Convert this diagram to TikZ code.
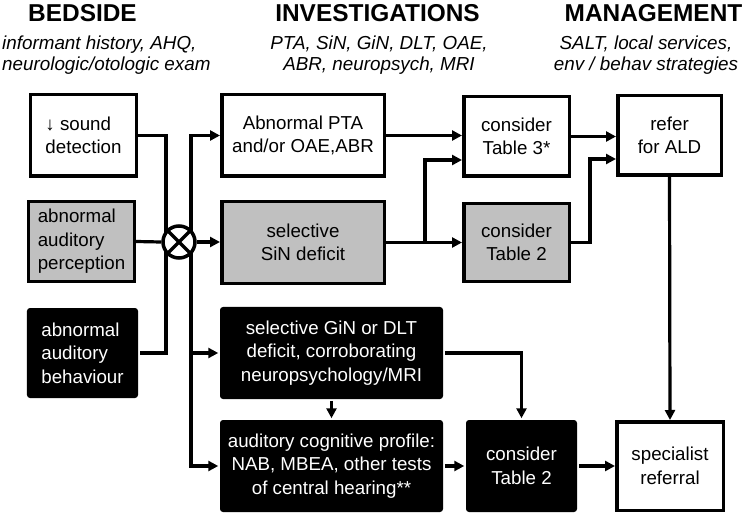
\documentclass[tikz,border=0pt]{standalone}
\usepackage{fontspec}
\setmainfont{Liberation Sans}
\usetikzlibrary{arrows.meta,calc}
\definecolor{boxgray}{RGB}{192,192,192}
\begin{document}
\begin{tikzpicture}[x=1bp,y=-1bp,
  bx/.style={line width=3.5bp, inner sep=1bp, font=\fontsize{18.8}{23.5}\selectfont, align=center},
  wbox/.style={bx, draw=black, fill=white},
  gbox/.style={bx, draw=black, fill=boxgray},
  kbox/.style={bx, fill=black, text=white, rounded corners=3bp},
  head/.style={inner sep=0, anchor=base, font=\fontsize{24.5}{28}\selectfont\bfseries},
  sub/.style={inner sep=0, anchor=base, font=\fontsize{18.9}{21.5}\selectfont\itshape},
  ln/.style={line width=3.2bp},
  arr/.style={line width=3.2bp, -{Triangle[length=10bp,width=10bp]}}]
\useasboundingbox (0,0) rectangle (750,515);

% headings
\node[head] (h1) at (82.5,21.5) {BEDSIDE};
\node[head] (h2) at (377.5,21.5) {INVESTIGATIONS};
\node[head] (h3) at (653.5,21.5) {MANAGEMENT};
\node[sub, anchor=base west] (s1a) at (2,49.5) {informant history, AHQ,};
\node[sub, anchor=base west] (s1b) at (2,70.8) {neurologic/otologic exam};
\node[sub] (s2a) at (379,49.5) {PTA, SiN, GiN, DLT, OAE,};
\node[sub] (s2b) at (379,70.8) {ABR, neuropsych, MRI};
\node[sub] (s3a) at (646,49.5) {SALT, local services,};
\node[sub] (s3b) at (646,70.8) {env / behav strategies};

% boxes
\node[wbox, align=left, minimum width=105.5bp, minimum height=81.5bp] (sd) at (83.5,135.5) {↓ sound\\detection};
\node[gbox, align=left, minimum width=105.5bp, minimum height=79.5bp] (perc) at (81.5,241.5) {abnormal\\auditory\\perception};
\node[kbox, align=left, minimum width=111bp, minimum height=90bp] (beh) at (82.5,353) {abnormal\\auditory\\behaviour};

\node[wbox, minimum width=162.5bp, minimum height=81.5bp] (pta) at (303,135.5) {Abnormal PTA\\and/or OAE,ABR};
\node[gbox, minimum width=162.5bp, minimum height=81.5bp] (sin) at (303,242.5) {selective\\SiN deficit};
\node[kbox, minimum width=223bp, minimum height=92bp] (gin) at (331.5,353) {selective GiN or DLT\\deficit, corroborating\\neuropsychology/MRI};
\node[kbox, minimum width=223bp, minimum height=92bp] (acp) at (331.5,466) {auditory cognitive profile:\\NAB, MBEA, other tests\\of central hearing**};

\node[wbox, minimum width=105.5bp, minimum height=79.5bp] (t3) at (516.5,136.5) {consider\\Table 3*};
\node[gbox, minimum width=105.5bp, minimum height=77.5bp] (t2g) at (516.5,242.5) {consider\\Table 2};
\node[kbox, minimum width=111bp, minimum height=92bp] (t2b) at (521.5,466) {consider\\Table 2};

\node[wbox, minimum width=103.5bp, minimum height=79.5bp] (ald) at (669.5,135.5) {refer\\for ALD};
\node[wbox, minimum width=106.5bp, minimum height=88.5bp] (spec) at (670,466) {specialist\\referral};

% left side connectors
\coordinate (vL) at (166,0);
\coordinate (vR) at (191,0);
\draw[ln] (sd.east) -| (beh.east -| vL) -- (beh.east);
\draw[arr] (acp.west -| vR) |- (pta.west);
\draw[arr] (pta.west -| vR) |- (acp.west);
\draw[arr] (vR |- gin.west) -- (gin.west);

% mixing node
\node[circle, draw=black, fill=white, line width=3.5bp, minimum size=32bp, inner sep=0] (mix) at (179,242) {};
\draw[line width=3.5bp] (mix.45) -- (mix.225) (mix.135) -- (mix.315);
\draw[ln] (perc.east) -- (mix.west);
\draw[arr] (mix.east) -- (sin.west |- mix.east);

% middle connectors
\coordinate (br) at (425,0);
\draw[arr] (pta.east) -- (t3.west |- pta.east);
\draw[arr] (sin.east) -- (t2g.west |- sin.east);
\draw[arr] (sin.east -| br) |- ($(t3.west)+(0,23.5)$);
\draw[arr] (gin.east) -| (t2b.north);
\draw[arr] (gin.south) -- (acp.north);
\draw[arr] (acp.east) -- (t2b.west |- acp.east);

% right connectors
\draw[arr] (t3.east) -- (ald.west |- t3.east);
\draw[arr] (t2g.east) -- ++(19,0) |- ($(ald.west)+(0,23.5)$);
\draw[arr] (ald.south) -- (spec.north);
\draw[arr] (t2b.east) -- (spec.west |- t2b.east);
\end{tikzpicture}
\end{document}
